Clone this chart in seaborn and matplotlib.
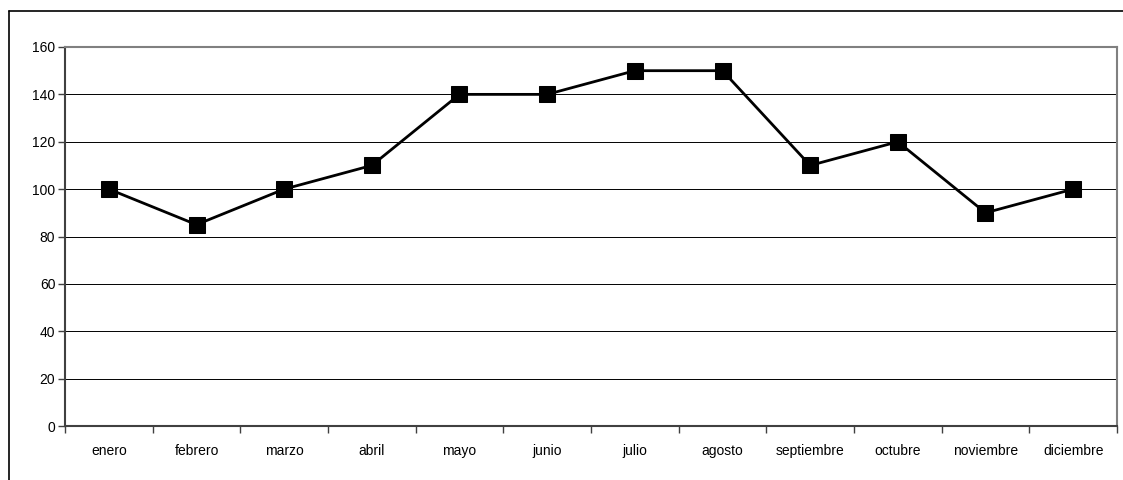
import pandas as pd
import matplotlib.pyplot as plt
import numpy as np
import seaborn as sns
from matplotlib.lines import Line2D
from matplotlib.ticker import FixedLocator

# Data
months = ["enero", "febrero", "marzo", "abril", "mayo", "junio",
          "julio", "agosto", "septiembre", "octubre", "noviembre", "diciembre"]
values = [100, 85, 100, 110, 140, 140, 150, 150, 110, 120, 90, 100]
y_ticks = [0, 20, 40, 60, 80, 100, 120, 140, 160]

sns.set_style("white")
plt.rcParams["font.family"] = ["Liberation Sans", "DejaVu Sans"]

df = pd.DataFrame({"mes": months, "valor": values})
df["pos"] = np.arange(len(months))

fig = plt.figure(figsize=(11.23, 4.8), dpi=100)
ax = fig.add_axes([65 / 1123, 1 - 426 / 480, (1117 - 65) / 1123, (426 - 47) / 480])

# outer chart frame (cut off at right and bottom)
fig.add_artist(Line2D([9 / 1123, 9 / 1123], [0, 1 - 11 / 480], transform=fig.transFigure,
                      color="black", linewidth=1.2))
fig.add_artist(Line2D([9 / 1123, 1], [1 - 11 / 480, 1 - 11 / 480], transform=fig.transFigure,
                      color="black", linewidth=1.2))

for y in y_ticks[1:-1]:
    ax.axhline(y, color="black", linewidth=0.7, zorder=1)

sns.lineplot(data=df, x="pos", y="valor", sort=False, color="black", linewidth=2.0,
             marker="s", markersize=11, markeredgecolor="black", markerfacecolor="black",
             ax=ax, zorder=3)

ax.set_xlim(-0.5, len(months) - 0.5)
ax.set_ylim(0, 160)
ax.set_yticks(y_ticks)
ax.set_xticks(df["pos"])
ax.set_xticklabels(months)
ax.xaxis.set_minor_locator(FixedLocator(np.arange(-0.5, len(months), 1.0)))
ax.tick_params(axis="x", which="major", bottom=False, length=0, pad=13, labelsize=10,
               labelcolor="black")
ax.tick_params(axis="x", which="minor", bottom=True, length=5, width=1, color="#404040",
               direction="out")
ax.tick_params(axis="y", which="major", left=True, length=5, width=1, color="#404040",
               direction="out", pad=2, labelsize=10, labelcolor="black")

ax.set_xlabel("")
ax.set_ylabel("")
for side in ["left", "bottom"]:
    ax.spines[side].set_color("#404040")
    ax.spines[side].set_linewidth(1.5)
for side in ["top", "right"]:
    ax.spines[side].set_color("#808080")
    ax.spines[side].set_linewidth(1.5)

fig.savefig("out.png", dpi=100)
plt.close(fig)
